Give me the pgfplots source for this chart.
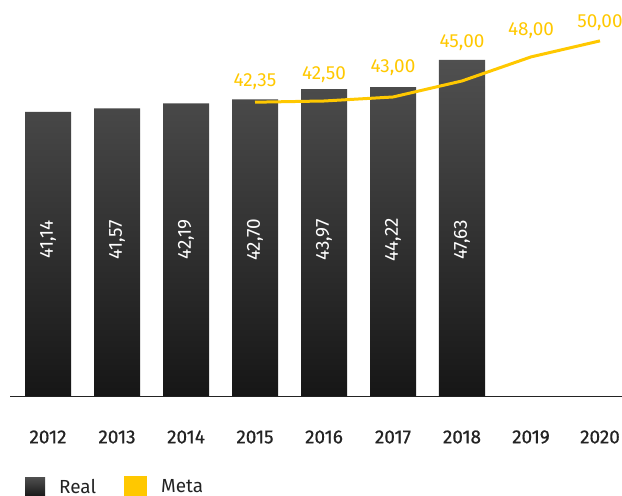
\documentclass[border=0pt]{standalone}
\usepackage{pgfplots}
\pgfplotsset{compat=1.18}
\usepackage{fontspec}
\setmainfont{Fira Sans}
\newfontfamily\tickfont[FakeBold=0.6]{Fira Sans}
\definecolor{meta}{RGB}{255,200,0}
\definecolor{txt}{RGB}{35,35,35}
\definecolor{bartop}{RGB}{80,80,80}
\definecolor{barbot}{RGB}{22,22,22}

\begin{document}
\begin{tikzpicture}[font=\fontsize{19}{22}\selectfont]
\useasboundingbox (-10bp,-100bp) rectangle (612bp,396bp);
\begin{axis}[
    at={(0,0)}, anchor=south west,
    scale only axis, width=612bp, height=396bp,
    xmin=2011.449, xmax=2020.319, ymin=5.7, ymax=55.1,
    axis x line*=bottom, axis y line=none,
    x axis line style={draw=txt, line width=1bp},
    xtick={2012,2013,2014,2015,2016,2017,2018,2019,2020},
    xticklabels={2012,2013,2014,2015,2016,2017,2018,2019,2020},
    xtick style={draw=none},
    xticklabel style={anchor=center, yshift=-41bp, text=txt, font=\fontsize{19}{22}\tickfont},
    ytick=\empty,
    legend columns=2,
    legend style={at={(0,0)}, anchor=west, xshift=15bp, yshift=-91bp,
        draw=none, fill=none, inner sep=0pt, text=txt,
        nodes={inner xsep=14bp, inner ysep=0pt},
        /tikz/every even column/.append style={column sep=14bp}},
    legend cell align=left,
]
% Real
\addplot[ybar, bar width=46bp, draw=none, top color=bartop, bottom color=barbot,
    legend image code/.code={\fill[top color=bartop,bottom color=barbot] (0bp,-10bp) rectangle (20bp,10bp);}]
    coordinates {(2012,41.14) (2013,41.57) (2014,42.19) (2015,42.70) (2016,43.97) (2017,44.22) (2018,47.63)};
\addlegendentry{Real}
% value labels inside the bars
\addplot[draw=none, mark=none, forget plot, nodes near coords, point meta=explicit symbolic,
    nodes near coords style={rotate=90, anchor=center, text=white}]
    coordinates {(2012,25.2)[41,14] (2013,25.2)[41,57] (2014,25.2)[42,19] (2015,25.2)[42,70]
                 (2016,25.2)[43,97] (2017,25.2)[44,22] (2018,25.2)[47,63]};
% Meta
\addplot[meta, line width=3bp, mark=none,
    legend image code/.code={\fill[meta] (0bp,-10bp) rectangle (20bp,10bp);}]
    coordinates {(2015,42.35) (2016,42.50) (2017,43.00) (2018,45.00) (2019,48.00) (2020,50.00)};
\addlegendentry{Meta}
% target labels, placed where the reference shows them
\addplot[draw=none, mark=none, forget plot, nodes near coords, point meta=explicit symbolic,
    nodes near coords style={anchor=center, text=meta}]
    coordinates {(2015,44.9)[42,35] (2016,45.8)[42,50] (2017,46.65)[43,00]
                 (2018,49.8)[45,00] (2019,51.3)[48,00] (2020,52.3)[50,00]};
\end{axis}
\end{tikzpicture}
\end{document}
